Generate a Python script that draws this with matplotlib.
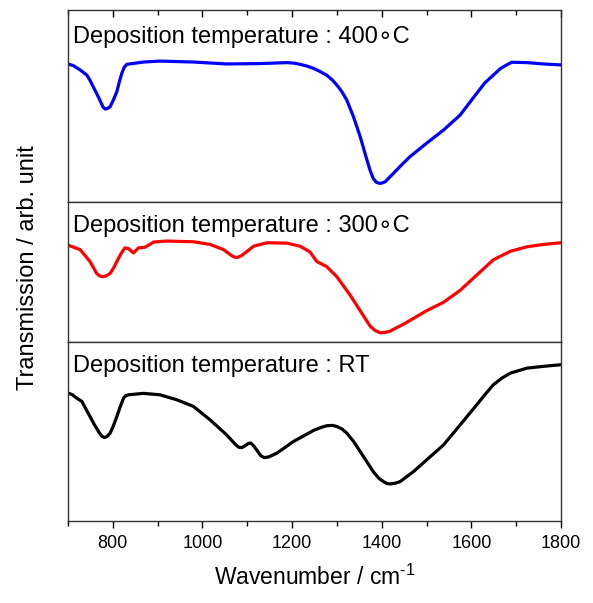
import matplotlib.pyplot as plt

# FTIR transmission spectra (arbitrary units, 0-100 per panel)
wn_400 = [700, 712, 727, 742, 750, 756, 764, 771, 778, 783, 788, 794, 801, 809, 815, 820,
          825, 831, 868, 905, 980, 1054, 1129, 1188, 1205, 1218, 1233, 1248, 1262, 1277,
          1290, 1300, 1311, 1322, 1337, 1352, 1367, 1374, 1381, 1388, 1395, 1401, 1408,
          1416, 1426, 1445, 1463, 1500, 1538, 1575, 1612, 1630, 1649, 1665, 1679, 1690,
          1724, 1761, 1800]
t_400 = [71.9, 71.0, 68.8, 66.1, 63.0, 60.1, 56.5, 53.1, 49.5, 48.4, 48.7, 49.7, 53.0,
         57.5, 63.0, 67.0, 70.0, 71.7, 72.9, 73.4, 72.9, 71.9, 72.1, 72.6, 72.3, 71.7,
         70.8, 69.6, 68.0, 66.1, 63.5, 60.9, 57.5, 53.1, 44.4, 34.0, 21.9, 16.5, 12.3,
         10.3, 9.7, 9.9, 10.6, 12.5, 14.9, 19.5, 23.6, 30.6, 37.5, 45.3, 56.6, 62.0, 66.1,
         69.5, 71.4, 72.8, 72.6, 71.9, 71.4]

wn_300 = [700, 727, 749, 764, 770, 777, 785, 794, 801, 809, 818, 827, 835, 846, 857, 872,
          891, 920, 980, 1017, 1047, 1065, 1072, 1078, 1086, 1095, 1114, 1144, 1188, 1218,
          1240, 1255, 1277, 1300, 1330, 1352, 1374, 1385, 1396, 1407, 1419, 1433, 1448,
          1500, 1538, 1575, 1612, 1649, 1687, 1724, 1761, 1800]
t_300 = [69.2, 66.0, 57.5, 49.0, 47.3, 46.6, 47.2, 49.0, 52.5, 57.5, 63.0, 67.2, 66.7,
         63.6, 67.2, 67.7, 71.4, 72.1, 71.6, 69.7, 66.0, 61.7, 60.6, 60.4, 61.5, 63.6,
         68.4, 70.9, 70.6, 68.4, 64.3, 57.5, 53.9, 46.6, 33.3, 22.3, 11.4, 8.3, 6.6, 6.8,
         7.8, 10.2, 12.6, 22.3, 28.4, 36.9, 47.8, 58.7, 64.8, 68.0, 69.7, 70.9]

wn_rt = [700, 710, 719, 731, 740, 749, 758, 768, 775, 781, 787, 794, 801, 809, 816, 824,
         829, 835, 868, 905, 943, 980, 1017, 1054, 1073, 1081, 1088, 1096, 1103, 1108,
         1114, 1121, 1130, 1138, 1148, 1166, 1203, 1248, 1265, 1277, 1290, 1300, 1312,
         1322, 1337, 1352, 1381, 1393, 1404, 1412, 1419, 1430, 1441, 1471, 1500, 1538,
         1575, 1612, 1630, 1649, 1668, 1687, 1724, 1761, 1800]
t_rt = [71.5, 70.5, 68.7, 66.8, 62.5, 58.4, 54.2, 50.0, 47.5, 46.6, 47.2, 49.1, 53.0,
        58.4, 63.5, 68.7, 70.0, 70.5, 71.3, 70.5, 67.7, 64.0, 56.5, 48.1, 42.9, 41.2,
        41.0, 42.2, 43.4, 43.5, 42.0, 39.7, 36.5, 35.4, 35.8, 37.9, 44.4, 50.6, 52.3,
        53.2, 53.4, 52.8, 51.3, 49.1, 44.5, 38.8, 27.6, 24.0, 22.0, 20.9, 20.7, 21.1,
        22.0, 27.6, 34.1, 42.5, 53.7, 64.9, 70.5, 76.1, 79.8, 82.6, 85.4, 86.4, 87.3]

panels = [
    (wn_400, t_400, '#0000ff', 'Deposition temperature : 400\u2218C'),
    (wn_300, t_300, '#ff0000', 'Deposition temperature : 300\u2218C'),
    (wn_rt, t_rt, '#000000', 'Deposition temperature : RT'),
]

plt.rcParams['font.family'] = ['Liberation Sans', 'DejaVu Sans']
plt.rcParams['mathtext.fontset'] = 'custom'
plt.rcParams['mathtext.rm'] = 'Liberation Sans'

fig, axes = plt.subplots(3, 1, sharex=True, figsize=(5.93, 6.03), dpi=100,
                         gridspec_kw={'height_ratios': [192, 140, 179], 'hspace': 0})
fig.subplots_adjust(left=0.1147, right=0.946, top=0.9834, bottom=0.136)

# baseline of the label in each panel (axes fraction)
text_y = [0.828, 0.788, 0.834]
for ax, (x, y, c, label), ty in zip(axes, panels, text_y):
    ax.plot(x, y, color=c, lw=2.3, solid_joinstyle='round')
    ax.set_ylim(0, 100)
    ax.set_yticks([])
    ax.text(0.01, ty, label, transform=ax.transAxes, fontsize=17, va='baseline', ha='left')
    for s in ax.spines.values():
        s.set_linewidth(1.0)
        s.set_color('#333333')
    ax.tick_params(axis='x', which='both', bottom=False, top=False)

ax_top, ax_bot = axes[0], axes[-1]
ax_bot.set_xlim(700, 1800)
ax_bot.set_xticks([800, 1000, 1200, 1400, 1600, 1800])
ax_bot.set_xticks(range(700, 1801, 100), minor=True)
ax_bot.tick_params(axis='x', which='major', bottom=True, direction='out', length=5,
                   width=1, labelsize=13, pad=5)
ax_bot.tick_params(axis='x', which='minor', bottom=True, direction='out', length=3.5, width=1)
ax_top.tick_params(axis='x', which='major', top=True, direction='in', length=5, width=1)
ax_top.tick_params(axis='x', which='minor', top=True, direction='in', length=3.5, width=1)

ax_bot.set_xlabel('Wavenumber / cm$^{\\mathregular{\u2010 1}}$', fontsize=16.5, labelpad=9)
fig.text(0.047, 0.556, 'Transmission / arb. unit', rotation=90, fontsize=17,
         va='center', ha='center')

plt.savefig('out.png')
